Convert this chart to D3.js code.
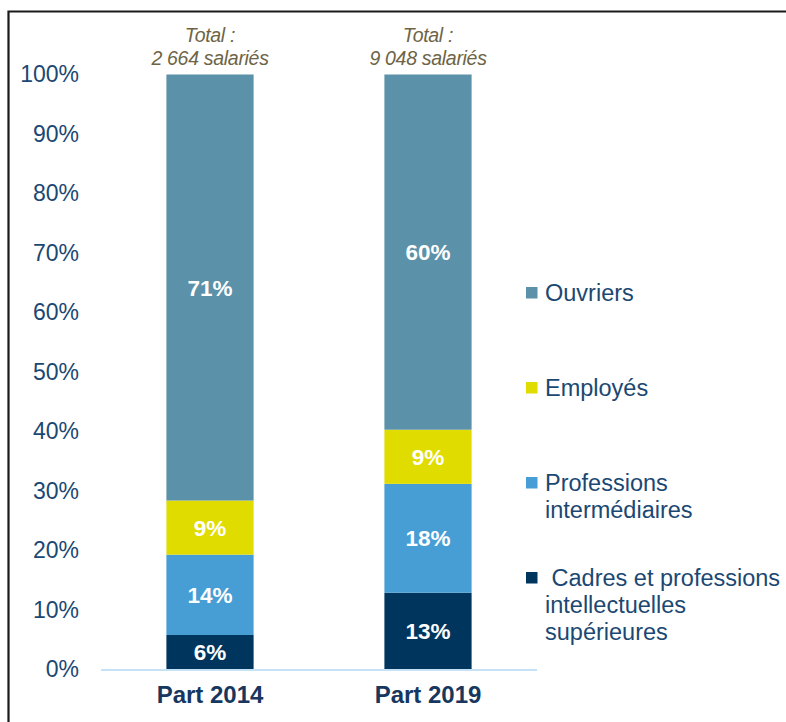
<!DOCTYPE html>
<html>
<head>
<meta charset="utf-8">
<script src="https://cdn.jsdelivr.net/npm/d3@7"></script>
<style>
  html, body { margin: 0; padding: 0; background: #fff; }
  svg { display: block; font-family: "Liberation Sans", Arial, sans-serif; }
</style>
</head>
<body>
<svg id="chart" width="786" height="722"></svg>
<script>
// ---- Data ----
const categories = ["Part 2014", "Part 2019"];
const totals = [["Total :", "2 664 salariés"], ["Total :", "9 048 salariés"]];
const seriesNames = ["Cadres et professions intellectuelles supérieures", "Professions intermédiaires", "Employés", "Ouvriers"];
const cadres   = [5.8, 12.9];
const profInt  = [13.5, 18.3];
const employes = [9.1, 9.1];
const ouvriers = [71.6, 59.7];
const valueLabels = [["6%", "14%", "9%", "71%"], ["13%", "18%", "9%", "60%"]];
const yTicks = [0, 10, 20, 30, 40, 50, 60, 70, 80, 90, 100];
const legendLines = [["Ouvriers"], ["Employés"], ["Professions", "intermédiaires"], [" Cadres et professions", "intellectuelles", "supérieures"]];
const colors = ["#00365e", "#479ed5", "#e1dc00", "#5b91a9"];

const svg = d3.select("#chart");

// frame
svg.append("path").attr("d", "M8.5,722 L8.5,11.5 L786,11.5")
  .attr("fill", "none").attr("stroke", "#1a1a1a").attr("stroke-width", 2.2);

const y = d3.scaleLinear().domain([0, 100]).range([669.5, 74.5]);
const x = d3.scaleBand().domain(categories).range([101, 537]).paddingInner(0.6).paddingOuter(0.3);

// stack
const rows = categories.map((c, i) => ({ cat: c, s0: cadres[i], s1: profInt[i], s2: employes[i], s3: ouvriers[i] }));
const stack = d3.stack().keys(["s0", "s1", "s2", "s3"])(rows);

stack.forEach((layer, li) => {
  svg.append("g").selectAll("rect").data(layer).join("rect")
    .attr("x", d => x(d.data.cat))
    .attr("width", x.bandwidth())
    .attr("y", d => y(d[1]))
    .attr("height", d => y(d[0]) - y(d[1]))
    .attr("fill", colors[li]);
  svg.append("g").selectAll("text").data(layer).join("text")
    .attr("x", d => x(d.data.cat) + x.bandwidth() / 2)
    .attr("y", d => (y(d[0]) + y(d[1])) / 2)
    .attr("dy", "0.36em")
    .attr("text-anchor", "middle")
    .attr("fill", "#ffffff")
    .attr("font-weight", "bold")
    .attr("font-size", 22.5)
    .text((d, i) => valueLabels[i][li]);
});

// y axis
const yAxis = d3.axisLeft(y).tickValues(yTicks).tickSize(0).tickPadding(0).tickFormat(d => d + "%");
const gy = svg.append("g").attr("transform", "translate(79,0)").call(yAxis);
gy.select(".domain").remove();
gy.selectAll("text").attr("font-size", 23).attr("fill", "#1b4872")
  .attr("font-family", "Liberation Sans, Arial, sans-serif");

// x axis
const xAxis = d3.axisBottom(x).tickSize(0).tickPadding(16);
const gx = svg.append("g").attr("transform", "translate(0,670)").call(xAxis);
gx.select(".domain").attr("stroke", "#c6e2f7").attr("stroke-width", 2).attr("d", "M101,0H537");
gx.selectAll("text").attr("font-size", 24).attr("font-weight", "bold").attr("fill", "#17375e")
  .attr("font-family", "Liberation Sans, Arial, sans-serif");

// totals
categories.forEach((c, i) => {
  const t = svg.append("text").attr("text-anchor", "middle").attr("font-style", "italic")
    .attr("font-size", 19.5).attr("fill", "#6d6446").attr("letter-spacing", "-0.3");
  t.append("tspan").attr("x", x(c) + x.bandwidth() / 2).attr("y", 42).text(totals[i][0]);
  t.append("tspan").attr("x", x(c) + x.bandwidth() / 2).attr("y", 65).text(totals[i][1]);
});

// legend
const legendY = [293, 388, 483, 578];
const legendColors = [colors[3], colors[2], colors[1], colors[0]];
legendLines.forEach((lines, i) => {
  svg.append("rect").attr("x", 526).attr("y", legendY[i] - 6).attr("width", 11.5).attr("height", 11.5)
    .attr("fill", legendColors[i]);
  const t = svg.append("text").attr("font-size", 23.5).attr("fill", "#1b4872").attr("xml:space", "preserve")
    .style("white-space", "pre");
  lines.forEach((ln, j) => {
    t.append("tspan").attr("x", 545).attr("y", legendY[i] + j * 27).attr("dy", "0.36em").text(ln);
  });
});
</script>
</body>
</html>
